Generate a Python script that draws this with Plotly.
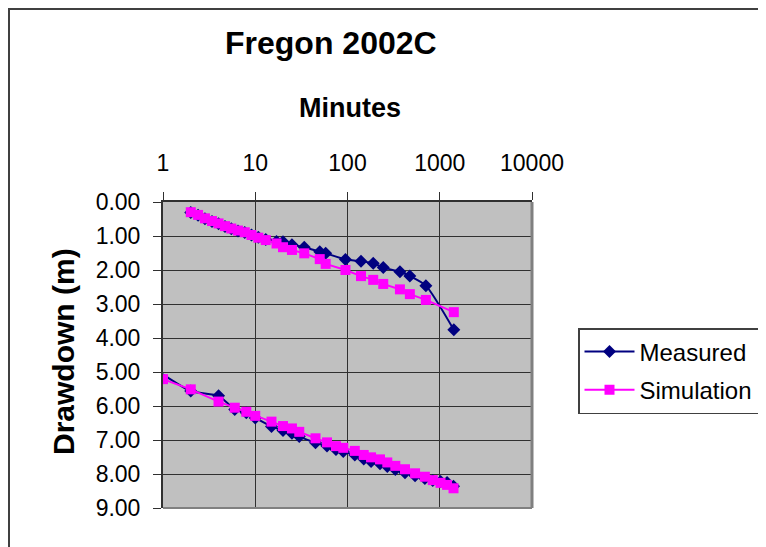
import plotly.graph_objects as go

# ---- data (minutes, drawdown in m) ----
t_top = [2, 2.4, 2.85, 3.4, 4, 4.7, 5.5, 6.5, 7.7, 9.1, 10.8, 13, 17, 20, 25, 34, 50, 58,
         95, 140, 190, 244, 370, 474, 707, 1420]
sim_top = [0.30, 0.38, 0.48, 0.56, 0.63, 0.71, 0.78, 0.84, 0.89, 0.97, 1.05, 1.12, 1.22, 1.33,
           1.41, 1.51, 1.68, 1.82, 2.00, 2.18, 2.29, 2.41, 2.57, 2.71, 2.88, 3.24]
meas_top = [0.31, 0.39, 0.49, 0.57, 0.64, 0.72, 0.79, 0.85, 0.90, 0.97, 1.04, 1.10, 1.16, 1.17,
            1.26, 1.33, 1.46, 1.51, 1.69, 1.74, 1.80, 1.93, 2.05, 2.18, 2.46, 3.76]

t_bot_sim = [1, 2, 4, 6, 8, 10, 15, 20, 25, 30, 45, 60, 75, 90, 120, 150, 180, 225, 270, 330,
             420, 540, 690, 840, 1020, 1200, 1410]
sim_bot = [5.21, 5.51, 5.87, 6.05, 6.17, 6.29, 6.46, 6.59, 6.66, 6.76, 6.95, 7.07, 7.18, 7.23,
           7.32, 7.44, 7.51, 7.57, 7.66, 7.76, 7.86, 7.98, 8.08, 8.18, 8.26, 8.32, 8.42]
t_bot_meas = [0.8, 2, 4, 6, 8, 10, 15, 20, 25, 30, 45, 60, 75, 90, 120, 150, 180, 225, 270, 330,
              420, 540, 690, 840, 1020, 1200, 1410]
meas_bot = [4.90, 5.56, 5.70, 6.10, 6.20, 6.35, 6.60, 6.72, 6.80, 6.90, 7.08, 7.18, 7.28, 7.34,
            7.44, 7.56, 7.63, 7.70, 7.78, 7.87, 7.96, 8.05, 8.13, 8.19, 8.22, 8.25, 8.36]

x_ticks = [1, 10, 100, 1000, 10000]
x_tick_text = ["1", "10", "100", "1000", "10000"]
y_ticks = [0, 1, 2, 3, 4, 5, 6, 7, 8, 9]

FONT = "Arial, Liberation Sans, sans-serif"

fig = go.Figure()
fig.add_trace(go.Scatter(
    x=t_top + [None] + t_bot_meas, y=meas_top + [None] + meas_bot,
    name="Measured", mode="lines+markers", legendgroup="a",
    line=dict(color="#000080", width=2, shape="spline", smoothing=0.6),
    marker=dict(symbol="diamond", size=10, color="#000080"),
))
fig.add_trace(go.Scatter(
    x=t_top + [None] + t_bot_sim, y=sim_top + [None] + sim_bot,
    name="Simulation", mode="lines+markers", legendgroup="b",
    line=dict(color="#FF00FF", width=2),
    marker=dict(symbol="square", size=10, color="#FF00FF"),
))

OFF = 8  # page body margin offset
W, H = 766 - OFF, 547 - OFF
L, R, T, B = 163 - OFF, 532 - OFF, 202 - OFF, 508 - OFF
pw, ph = R - L, B - T

def px(x):
    return (x - OFF - L) / pw

def py(y):
    return (B - (y - OFF)) / ph

fig.update_layout(
    width=W, height=H,
    margin=dict(l=L, r=W - R, t=T, b=H - B, autoexpand=False),
    paper_bgcolor="white", plot_bgcolor="#C0C0C0",
    font=dict(family=FONT, color="black"),
    showlegend=True,
    legend=dict(x=px(578), y=py(328), xanchor="left", yanchor="top",
                bordercolor="#404040", borderwidth=1.5, bgcolor="white",
                font=dict(size=24, family=FONT), tracegroupgap=4,
                itemwidth=50),
    xaxis=dict(type="log", side="top", range=[0, 4], tickvals=x_ticks, ticktext=x_tick_text,
               showgrid=True, gridcolor="#303030", gridwidth=1,
               showline=True, linecolor="#303030", linewidth=2,
               ticks="outside", ticklen=8, tickcolor="#303030", tickwidth=1,
               tickfont=dict(size=23, family=FONT), ticklabelstandoff=12, zeroline=False),
    yaxis=dict(range=[9, 0], tickvals=y_ticks, tickformat=".2f",
               showgrid=True, gridcolor="#303030", gridwidth=1,
               showline=True, linecolor="#303030", linewidth=2,
               ticks="outside", ticklen=8, tickcolor="#303030", tickwidth=1,
               tickfont=dict(size=23, family=FONT), ticklabelstandoff=8, zeroline=False),
    shapes=[
        dict(type="line", xref="paper", yref="paper", x0=1, x1=1, y0=0, y1=1,
             line=dict(color="#808080", width=3), layer="above"),
        dict(type="line", xref="paper", yref="paper", x0=0, x1=1, y0=0, y1=0,
             line=dict(color="#808080", width=2), layer="above"),
        dict(type="rect", xref="paper", yref="paper", x0=px(9), x1=px(800), y0=py(9), y1=py(600),
             line=dict(color="#404040", width=2), layer="above"),
    ],
    annotations=[
        dict(text="<b>Fregon 2002C</b>", xref="paper", yref="paper", x=px(331), y=py(43),
             xanchor="center", yanchor="middle", showarrow=False,
             font=dict(size=32, family=FONT)),
        dict(text="<b>Minutes</b>", xref="paper", yref="paper", x=px(350), y=py(108),
             xanchor="center", yanchor="middle", showarrow=False,
             font=dict(size=27, family=FONT)),
        dict(text="<b>Drawdown (m)</b>", xref="paper", yref="paper", x=px(63), y=py(352),
             xanchor="center", yanchor="middle", showarrow=False, textangle=-90,
             font=dict(size=30, family=FONT)),
    ],
)

fig.write_html("out.html")
